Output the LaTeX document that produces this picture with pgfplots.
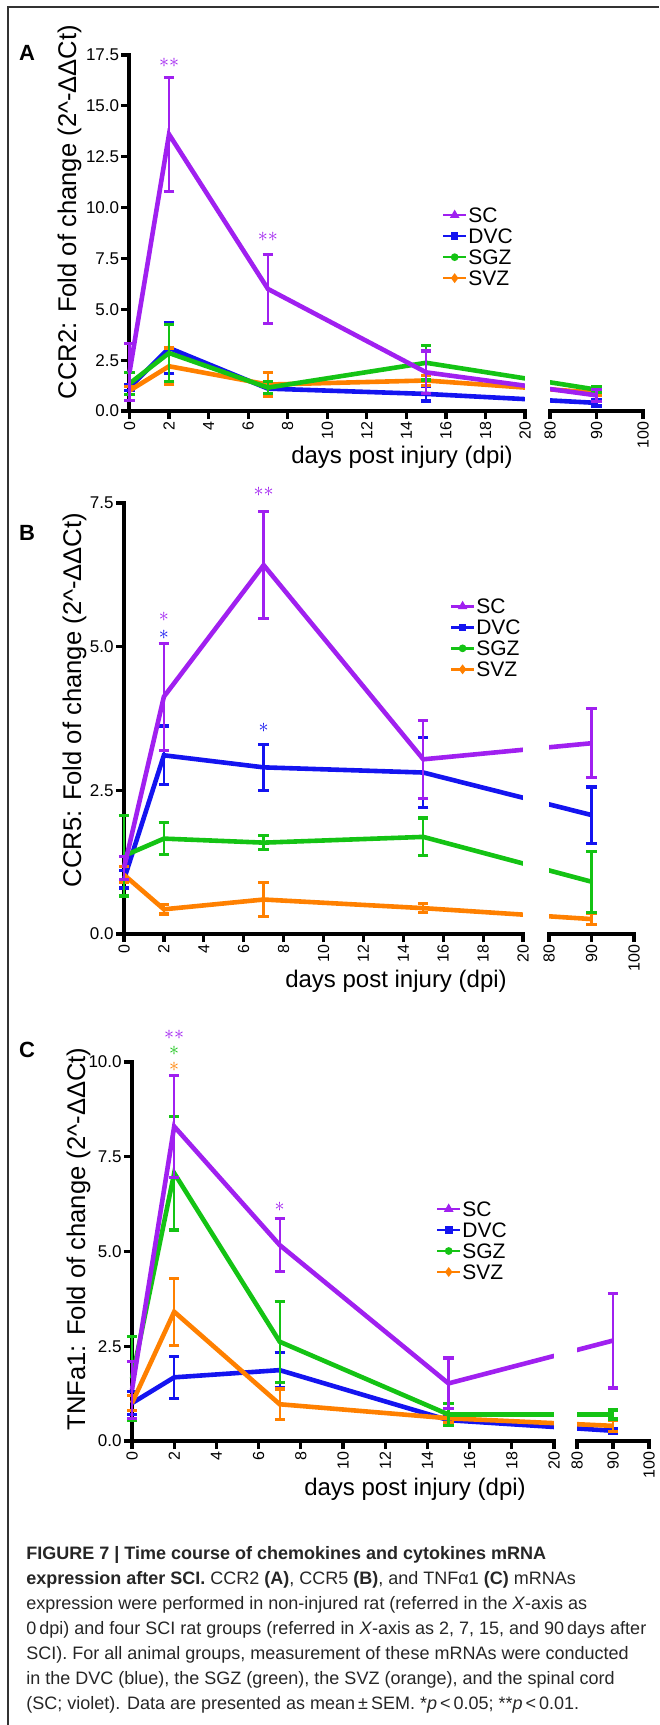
\documentclass[border=0pt]{standalone}
\usepackage{pgfplots}
\pgfplotsset{compat=1.18}
\usepackage{fontspec}
\setmainfont{Liberation Sans}

\definecolor{scc}{RGB}{160,32,240}
\definecolor{dvc}{RGB}{20,20,240}
\definecolor{sgz}{RGB}{20,195,20}
\definecolor{svz}{RGB}{255,128,0}

\tikzset{astnode/.style={inner sep=0pt, font=\fontsize{10}{10}\selectfont}}

\pgfplotsset{
  brk/.style 2 args={x coord trafo/.code={\pgfmathparse{##1>50 ? 20+#1+(##1-80)*#2 : ##1}}},
  panel/.style={
    scale only axis, anchor=south west, clip=false,
    xmin=0, xmax=100, ymin=0,
    axis lines=left, axis line style={-, line width=2pt, line cap=rect},
    x axis line style={draw=none},
    tick align=outside, major tick length=4pt,
    tick style={line width=1.6pt, black},
    xtick={0,2,4,6,8,10,12,14,16,18,20,80,90,100},
    xticklabels={0,2,4,6,8,10,12,14,16,18,20,80,90,100},
    xticklabel style={rotate=90, anchor=east, font=\fontsize{8}{9}\selectfont, inner sep=1pt},
    yticklabel style={font=\fontsize{8.5}{10}\selectfont, inner sep=1pt},
    /pgf/number format/fixed, /pgf/number format/fixed zerofill,
    /pgf/number format/precision=1, /pgf/number format/assume math mode=true,
    legend cell align=left,
    legend style={draw=none, fill=none, inner sep=0pt, outer sep=0pt, anchor=north west,
      font=\fontsize{10.5}{11}\selectfont, row sep=2pt,
      nodes={inner sep=0.5pt, text height=7.5pt, text depth=0pt}},
    legend image code/.code={\draw[mark repeat=2,mark phase=2,##1] plot coordinates {(0pt,0pt) (5.75pt,0pt) (11.5pt,0pt)};},
    error bars/y dir=both, error bars/y explicit,
    error bars/error bar style={line width=1.2pt},
    error bars/error mark options={rotate=90, mark size=2.6pt, line width=1.6pt},
  },
  scl/.style={color=scc, line width=2.3pt, mark=none, forget plot},
  dvl/.style={color=dvc, line width=2.3pt, mark=none, forget plot},
  sgl/.style={color=sgz, line width=2.3pt, mark=none, forget plot},
  svl/.style={color=svz, line width=2.3pt, mark=none, forget plot},
}

\begin{document}
\begin{tikzpicture}
\useasboundingbox (0,0) rectangle (329.5pt,-862.5pt);
\draw[line width=0.8pt, black!80] (4pt,-862.5pt) -- (4pt,-3.5pt) -- (329.5pt,-3.5pt);

% ---------------- A: CCR2
\begin{axis}[panel, brk={1.264}{0.235}, at={(64.75pt,-205.5pt)},
  width=256.75pt, height=178pt, ymax=17.5,
  ytick={0,2.5,5,7.5,10,12.5,15,17.5},
  legend style={at={(0.6085,0.574)}}]
\addlegendimage{color=scc, line width=1.2pt, mark=triangle*, mark size=1.6pt}\addlegendentry{SC}
\addlegendimage{color=dvc, line width=1.2pt, mark=square*, mark size=1.3pt}\addlegendentry{DVC}
\addlegendimage{color=sgz, line width=1.2pt, mark=*, mark size=1.3pt}\addlegendentry{SGZ}
\addlegendimage{color=svz, line width=1.2pt, mark=diamond*, mark size=1.5pt}\addlegendentry{SVZ}
\addplot[dvl] coordinates {(0,1.15) +- (0,0.15) (2,3.1) +- (0,1.25) (7,1.1) +- (0,0.3) (15,0.84) +- (0,0.35) (90,0.4) +- (0,0.15)};
\addplot[svl] coordinates {(0,1.0) +- (0,0.2) (2,2.2) +- (0,0.9) (7,1.3) +- (0,0.6) (15,1.5) +- (0,0.25) (90,0.9) +- (0,0.15)};
\addplot[sgl] coordinates {(0,1.35) +- (0,0.55) (2,2.85) +- (0,1.4) (7,1.15) +- (0,0.3) (15,2.37) +- (0,0.85) (90,1.05) +- (0,0.15)};
\addplot[scl] coordinates {(0,1.9) +- (0,1.4) (2,13.6) +- (0,2.8) (7,6.0) +- (0,1.7) (15,1.9) +- (0,1.05) (90,0.77) +- (0,0.3)};
\fill[white] (axis cs:20,0) rectangle (axis cs:80,17.5);
\draw[line width=2pt, line cap=rect] (axis cs:0,0) -- (axis cs:20,0);
\draw[line width=2pt, line cap=rect] (axis cs:80,0) -- (axis cs:100,0);
\node[astnode, scc] at (axis cs:2,17.1) {${\ast}{\ast}$};
\node[astnode, scc] at (axis cs:7,8.55) {${\ast}{\ast}$};
\end{axis}

% ---------------- B: CCR5
\begin{axis}[panel, brk={1.303}{0.213}, at={(62pt,-467pt)},
  width=255pt, height=215.5pt, ymax=7.5,
  ytick={0,2.5,5,7.5},
  legend style={at={(0.639,0.780)}}]
\addlegendimage{color=scc, line width=1.2pt, mark=triangle*, mark size=1.6pt}\addlegendentry{SC}
\addlegendimage{color=dvc, line width=1.2pt, mark=square*, mark size=1.3pt}\addlegendentry{DVC}
\addlegendimage{color=sgz, line width=1.2pt, mark=*, mark size=1.3pt}\addlegendentry{SGZ}
\addlegendimage{color=svz, line width=1.2pt, mark=diamond*, mark size=1.5pt}\addlegendentry{SVZ}
\addplot[dvl] coordinates {(0,0.95) +- (0,0.15) (2,3.11) +- (0,0.51) (7,2.9) +- (0,0.4) (15,2.81) +- (0,0.61) (90,2.07) +- (0,0.49)};
\addplot[svl] coordinates {(0,1.03) +- (0,0.14) (2,0.43) +- (0,0.08) (7,0.6) +- (0,0.3) (15,0.45) +- (0,0.08) (90,0.26) +- (0,0.09)};
\addplot[sgl] coordinates {(0,1.36) +- (0,0.7) (2,1.66) +- (0,0.28) (7,1.59) +- (0,0.12) (15,1.69) +- (0,0.33) (90,0.91) +- (0,0.53)};
\addplot[scl] coordinates {(0,1.15) +- (0,0.2) (2,4.13) +- (0,0.93) (7,6.42) +- (0,0.93) (15,3.04) +- (0,0.68) (90,3.32) +- (0,0.6)};
\fill[white] (axis cs:20,0) rectangle (axis cs:80,7.5);
\draw[line width=2pt, line cap=rect] (axis cs:0,0) -- (axis cs:20,0);
\draw[line width=2pt, line cap=rect] (axis cs:80,0) -- (axis cs:100,0);
\node[astnode, scc] at (axis cs:7,7.69) {${\ast}{\ast}$};
\node[astnode, align=center, font=\fontsize{10}{9.2}\selectfont] at (axis cs:2,5.36)
  {\textcolor{scc}{$\ast$}\\\textcolor{dvc}{$\ast$}};
\node[astnode, dvc] at (axis cs:7,3.58) {$\ast$};
\end{axis}

% ---------------- C: TNFa1
\begin{axis}[panel, brk={1.09}{0.1706}, at={(66pt,-720.5pt)},
  width=258.5pt, height=189.5pt, ymax=10,
  ytick={0,2.5,5,7.5,10},
  legend style={at={(0.588,0.6346)}}]
\addlegendimage{color=scc, line width=1.2pt, mark=triangle*, mark size=1.6pt}\addlegendentry{SC}
\addlegendimage{color=dvc, line width=1.2pt, mark=square*, mark size=1.3pt}\addlegendentry{DVC}
\addlegendimage{color=sgz, line width=1.2pt, mark=*, mark size=1.3pt}\addlegendentry{SGZ}
\addlegendimage{color=svz, line width=1.2pt, mark=diamond*, mark size=1.5pt}\addlegendentry{SVZ}
\addplot[dvl] coordinates {(0,1.0) +- (0,0.3) (2,1.68) +- (0,0.56) (7,1.87) +- (0,0.47) (15,0.55) +- (0,0.1) (90,0.27) +- (0,0.06)};
\addplot[svl] coordinates {(0,1.0) +- (0,0.2) (2,3.41) +- (0,0.88) (7,0.97) +- (0,0.4) (15,0.6) +- (0,0.12) (90,0.4) +- (0,0.15)};
\addplot[sgl] coordinates {(0,1.65) +- (0,1.1) (2,7.07) +- (0,1.5) (7,2.62) +- (0,1.07) (15,0.7) +- (0,0.28) (90,0.7) +- (0,0.12)};
\addplot[scl] coordinates {(0,1.35) +- (0,0.75) (2,8.3) +- (0,1.35) (7,5.17) +- (0,0.7) (15,1.52) +- (0,0.67) (90,2.65) +- (0,1.25)};
\fill[white] (axis cs:20,0) rectangle (axis cs:80,10);
\draw[line width=2pt, line cap=rect] (axis cs:0,0) -- (axis cs:20,0);
\draw[line width=2pt, line cap=rect] (axis cs:80,0) -- (axis cs:100,0);
\node[astnode, align=center, font=\fontsize{10}{8}\selectfont] at (axis cs:2,10.3)
  {\textcolor{scc}{${\ast}{\ast}$}\\\textcolor{sgz}{$\ast$}\\\textcolor{svz}{$\ast$}};
\node[astnode, scc] at (axis cs:7,6.17) {$\ast$};
\end{axis}

% axis titles and panel letters
\begin{scope}[every node/.style={inner sep=0pt}]
\node[font=\fontsize{11}{11}\selectfont\bfseries] at (13.5pt,-26.5pt) {A};
\node[font=\fontsize{11}{11}\selectfont\bfseries] at (13.5pt,-266.5pt) {B};
\node[font=\fontsize{11}{11}\selectfont\bfseries] at (13.5pt,-525pt) {C};
\node[rotate=90, anchor=base, font=\fontsize{12.8}{13}\selectfont] at (38pt,-106pt) {CCR2: Fold of change (2\textasciicircum-ΔΔCt)};
\node[rotate=90, anchor=base, font=\fontsize{12.8}{13}\selectfont] at (40.5pt,-350pt) {CCR5: Fold of change (2\textasciicircum-ΔΔCt)};
\node[rotate=90, anchor=base, font=\fontsize{12.8}{13}\selectfont] at (42.5pt,-619.5pt) {TNFa1: Fold of change (2\textasciicircum-ΔΔCt)};
\node[anchor=base, font=\fontsize{12}{13}\selectfont] at (201pt,-231.5pt) {days post injury (dpi)};
\node[anchor=base, font=\fontsize{12}{13}\selectfont] at (198pt,-493.75pt) {days post injury (dpi)};
\node[anchor=base, font=\fontsize{12}{13}\selectfont] at (207.5pt,-747.75pt) {days post injury (dpi)};
\end{scope}

% caption
\begin{scope}[every node/.style={inner sep=0pt, anchor=base west, text=black!85, font=\fontsize{9}{10}\selectfont}]
\node at (13pt,-779.5pt) {\textbf{FIGURE 7 \textbar\ Time course of chemokines and cytokines mRNA}};
\node at (13pt,-792.08pt) {\textbf{expression after SCI.} CCR2 \textbf{(A)}, CCR5 \textbf{(B)}, and TNFα1 \textbf{(C)} mRNAs};
\node at (13pt,-804.66pt) {expression were performed in non-injured rat (referred in the \textit{X}-axis as};
\node at (13pt,-817.24pt) {0\,dpi) and four SCI rat groups (referred in \textit{X}-axis as 2, 7, 15, and 90\,days after};
\node at (13pt,-829.82pt) {SCI). For all animal groups, measurement of these mRNAs were conducted};
\node at (13pt,-842.4pt) {in the DVC (blue), the SGZ (green), the SVZ (orange), and the spinal cord};
\node at (13pt,-854.98pt) {(SC; violet). Data are presented as mean\,±\,SEM. *\textit{p}\,<\,0.05; **\textit{p}\,<\,0.01.};
\end{scope}
\end{tikzpicture}
\end{document}
